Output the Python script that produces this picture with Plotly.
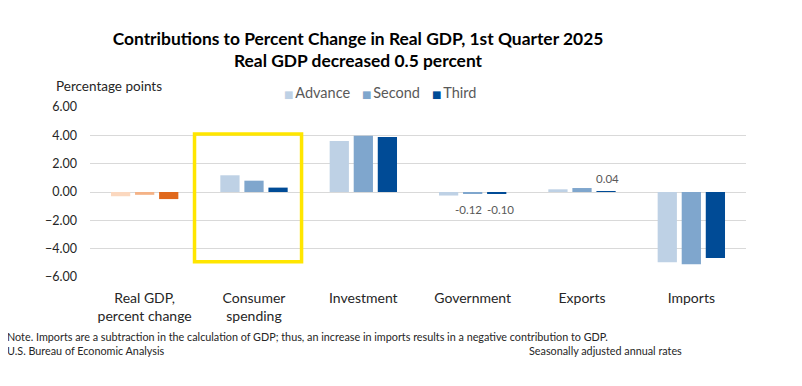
import plotly.graph_objects as go

categories = ["Real GDP,<br>percent change", "Consumer<br>spending", "Investment",
              "Government", "Exports", "Imports"]
series_names = ["Advance", "Second", "Third"]
advance = [-0.3, 1.18, 3.60, -0.25, 0.19, -4.95]
second = [-0.2, 0.80, 3.97, -0.12, 0.28, -5.10]
third = [-0.5, 0.31, 3.88, -0.10, 0.04, -4.65]
# which bars carry a value label: (series index, category index)
labelled = [(1, 3), (2, 3), (2, 4)]
yticks = [-6, -4, -2, 0, 2, 4, 6]

blue_colors = ["#bed1e5", "#7fa6cd", "#004b96"]
orange_colors = ["#fbd8bf", "#f4b286", "#e0681c"]

FONT = "Lato"
GREY = "#595959"
DARK = "#262626"

# page body adds an 8px offset; geometry below is in window pixels
OFF = 8
W, H = 802 - OFF, 386 - OFF
L, R, T, B = 90, 746, 107, 277   # plot area in window pixels
def px(x):
    return (x - L) / (R - L)
def py(y):
    return (B - y) / (B - T)

BARGAP, GROUPGAP = 0.34, 0.2
slot_px = (R - L) / len(categories) * (1 - BARGAP) / 3
label_nudge = [-4, 3.5, 1]   # small horizontal nudges of the value labels (px)

all_series = [advance, second, third]
fig = go.Figure()
for i, (name, vals) in enumerate(zip(series_names, all_series)):
    fig.add_trace(go.Bar(
        name=name, x=categories[1:], y=vals[1:],
        marker=dict(color=blue_colors[i], line=dict(width=0)),
        offsetgroup=str(i), legendgroup=name,
        hoverinfo="x+y", showlegend=False,
    ))
    fig.add_trace(go.Bar(
        name=name, x=categories[:1], y=vals[:1],
        marker=dict(color=orange_colors[i], line=dict(width=0)),
        offsetgroup=str(i), legendgroup=name, showlegend=False,
        hoverinfo="x+y",
    ))

# value labels on selected bars
for (s, c), nudge in zip(labelled, label_nudge):
    v = all_series[s][c]
    fig.add_annotation(text=f"{v:.2f}", xref="x", yref="y", x=categories[c], y=v,
                       xshift=(s - 1) * slot_px + nudge, yshift=13 if v >= 0 else -16,
                       showarrow=False, xanchor="center", yanchor="middle",
                       font=dict(size=11.5, color=GREY, family=FONT))

# legend drawn as text entries
legend_x = [282, 360, 430]
for name, col, lx in zip(series_names, blue_colors, legend_x):
    fig.add_annotation(text=f"<span style='color:{col};font-family:DejaVu Sans;font-size:10px'>■</span>&#8201;{name}",
                       xref="paper", yref="paper", x=px(lx), y=py(92),
                       xanchor="left", yanchor="middle", showarrow=False,
                       font=dict(size=14.5, color=GREY, family=FONT))

fig.add_shape(type="rect", xref="x", yref="y", x0=0.456, x1=1.435, y0=-4.92, y1=4.09,
              line=dict(color="#ffe600", width=3.5), fillcolor="rgba(0,0,0,0)")

fig.add_annotation(text="Percentage points", xref="paper", yref="paper",
                   x=px(54), y=py(86), xanchor="left", yanchor="middle", showarrow=False,
                   font=dict(size=13.5, color=DARK, family=FONT))
fig.add_annotation(text="Note. Imports are a subtraction in the calculation of GDP; thus, an increase in imports results in a negative contribution to GDP.",
                   xref="paper", yref="paper", x=px(5), y=py(336),
                   xanchor="left", yanchor="middle", showarrow=False,
                   font=dict(size=10.8, color=DARK, family=FONT))
fig.add_annotation(text="U.S. Bureau of Economic Analysis",
                   xref="paper", yref="paper", x=px(5), y=py(350),
                   xanchor="left", yanchor="middle", showarrow=False,
                   font=dict(size=10.8, color=DARK, family=FONT))
fig.add_annotation(text="Seasonally adjusted annual rates",
                   xref="paper", yref="paper", x=px(527), y=py(350),
                   xanchor="left", yanchor="middle", showarrow=False,
                   font=dict(size=10.8, color=DARK, family=FONT))

fig.update_layout(
    width=W, height=H,
    margin=dict(l=L - OFF, r=W - (R - OFF), t=T - OFF, b=H - (B - OFF), autoexpand=False),
    paper_bgcolor="white", plot_bgcolor="white",
    title=dict(text="<b>Contributions to Percent Change in Real GDP, 1st Quarter 2025<br>Real GDP decreased 0.5 percent</b>",
               x=(358 - OFF) / W, xanchor="center", xref="container",
               y=1 - 36.5 / H, yanchor="top", yref="container",
               font=dict(size=17.4, color="black", family=FONT)),
    barmode="group", bargap=BARGAP, bargroupgap=GROUPGAP,
    showlegend=False,
    font=dict(family=FONT, color=GREY),
)
fig.update_xaxes(showgrid=False, showline=False, ticks="",
                 categoryorder="array", categoryarray=categories,
                 ticklabelstandoff=11,
                 tickfont=dict(size=14, color=DARK, family=FONT))
fig.update_yaxes(range=[-6, 6], tickvals=yticks, tickformat=".2f",
                 showgrid=True, gridcolor="#d9d9d9", gridwidth=1,
                 zeroline=True, zerolinecolor="#d9d9d9", zerolinewidth=1,
                 showline=False, ticks="", ticklabelstandoff=12,
                 tickfont=dict(size=12.5, color=DARK, family=FONT))

fig.write_html("out.html")
